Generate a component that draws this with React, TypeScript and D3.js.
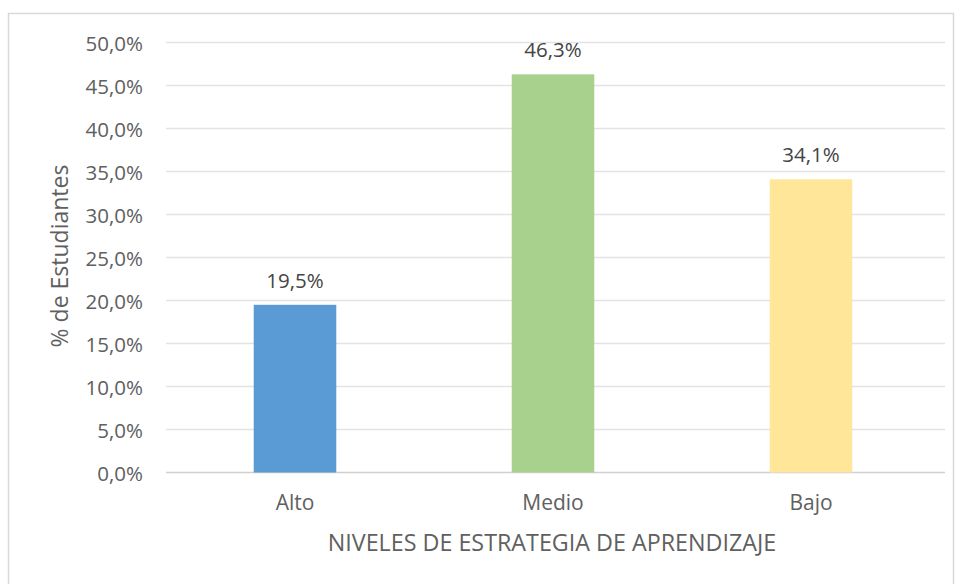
import React from "react";
import * as d3 from "d3";

const categories = ["Alto", "Medio", "Bajo"];
const values = [19.5, 46.3, 34.1];
const colors = ["#5b9bd5", "#a9d18e", "#ffe699"];
const yTicks = [0, 5, 10, 15, 20, 25, 30, 35, 40, 45, 50];
const xTitle = "NIVELES DE ESTRATEGIA DE APRENDIZAJE";
const yTitle = "% de Estudiantes";

const W = 957;
const H = 584;
const FONT = "'Open Sans', sans-serif";
const fmt = (v: number) => v.toFixed(1).replace(".", ",") + "%";

export default function App() {
  const x = d3.scaleBand<string>().domain(categories).range([166, 940]).paddingInner(0.68).paddingOuter(0.34);
  const y = d3.scaleLinear().domain([0, 50]).range([472.5, 42.5]);
  return (
    <svg width={W} height={H} style={{ position: "absolute", left: 0, top: 0, background: "#fff" }}>
      <rect x={8.5} y={13.5} width={945} height={575} fill="#fff" stroke="#d9d9d9" strokeWidth={1.5} />
      {yTicks.map((t) => (
        <g key={t}>
          <line x1={166} x2={945} y1={y(t)} y2={y(t)} stroke={t === 0 ? "#d0d0d0" : "#e3e3e3"} strokeWidth={1.3} />
          <text x={143} y={y(t)} dy="0.42em" textAnchor="end" fontFamily={FONT} fontSize={20.5} fill="#606060">
            {fmt(t)}
          </text>
        </g>
      ))}
      {categories.map((c, i) => (
        <g key={c}>
          <rect x={x(c)} y={y(values[i])} width={x.bandwidth()} height={y(0) - y(values[i])} fill={colors[i]} />
          <text x={(x(c) as number) + x.bandwidth() / 2} y={y(values[i]) - 17} textAnchor="middle" fontFamily={FONT} fontSize={20.5} fill="#454545">
            {fmt(values[i])}
          </text>
          <text x={(x(c) as number) + x.bandwidth() / 2} y={503} dy="0.35em" textAnchor="middle" fontFamily={FONT} fontSize={21} fill="#606060">
            {c}
          </text>
        </g>
      ))}
      <text x={552} y={543} dy="0.35em" textAnchor="middle" fontFamily={FONT} fontSize={23.3} fill="#606060">
        {xTitle}
      </text>
      <text transform={`translate(60,256) rotate(-90)`} dy="0.35em" textAnchor="middle" fontFamily={FONT} fontSize={23} fill="#606060">
        {yTitle}
      </text>
    </svg>
  );
}
